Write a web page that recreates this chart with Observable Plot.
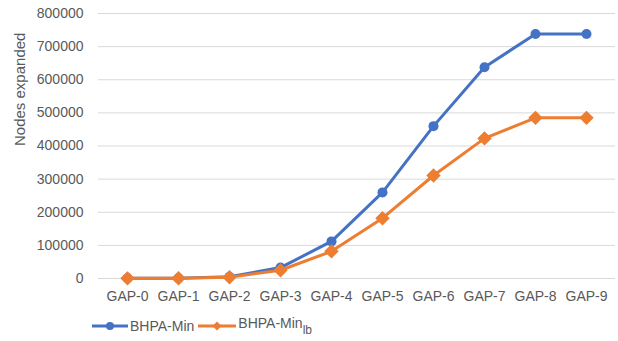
<!DOCTYPE html>
<html>
<head>
<meta charset="utf-8">
<script src="https://cdn.jsdelivr.net/npm/d3@7"></script>
<script src="https://cdn.jsdelivr.net/npm/@observablehq/plot@0.6"></script>
<style>
  body { margin: 0; background: #fff; font-family: "Liberation Sans", Arial, sans-serif; }
  #chart { width: 618px; }
  .legend { display: flex; align-items: center; height: 31px; padding-left: 92px; font-size: 14px; color: #595959; font-family: "Liberation Sans", Arial, sans-serif; }
  .legend .item { display: flex; align-items: center; margin-right: 4px; }
  .legend svg { margin-right: 2px; }
  .legend sub { font-size: 12px; vertical-align: -6px; }
</style>
</head>
<body>
<div id="chart"></div>
<script>
const categories = ["GAP-0", "GAP-1", "GAP-2", "GAP-3", "GAP-4", "GAP-5", "GAP-6", "GAP-7", "GAP-8", "GAP-9"];
const bhpaMin   = [500, 800, 5000, 33000, 112000, 260000, 460000, 638000, 738000, 738000];
const bhpaMinLb = [400, 600, 4000, 25000, 82000, 182000, 311000, 423000, 485000, 485000];
const yTicks = [0, 100000, 200000, 300000, 400000, 500000, 600000, 700000, 800000];
const seriesNames = ["BHPA-Min", "BHPA-Min_lb"];
const colors = ["#4472C4", "#ED7D31"];

const data = [];
categories.forEach((c, i) => {
  data.push({cat: c, value: bhpaMin[i], series: seriesNames[0]});
  data.push({cat: c, value: bhpaMinLb[i], series: seriesNames[1]});
});

const chart = Plot.plot({
  width: 618,
  height: 310,
  marginLeft: 98,
  marginRight: 3,
  marginTop: 13,
  marginBottom: 32,
  style: { fontFamily: "Liberation Sans, Arial, sans-serif", fontSize: "14px", color: "#595959" },
  x: { type: "point", domain: categories, padding: 0.5, label: null },
  y: { domain: [0, 800000], ticks: yTicks, label: null },
  color: { domain: seriesNames, range: colors },
  marks: [
    Plot.ruleY(yTicks, { stroke: "#d9d9d9", strokeWidth: 1 }),
    Plot.axisY({ ticks: yTicks, tickSize: 0, tickPadding: 15, tickFormat: d3.format("d"), label: null, fill: "#595959", fontSize: 14 }),
    Plot.axisX({ tickSize: 0, tickPadding: 13, label: null, fill: "#595959", fontSize: 14 }),
    Plot.text(["Nodes expanded"], { frameAnchor: "left", dx: -78, rotate: -90, fontSize: 15, fill: "#595959" }),
    Plot.line(data.filter(d => d.series === seriesNames[0]), { x: "cat", y: "value", stroke: colors[0], strokeWidth: 3 }),
    Plot.dot(data.filter(d => d.series === seriesNames[0]), { x: "cat", y: "value", fill: colors[0], r: 5, symbol: "circle" }),
    Plot.line(data.filter(d => d.series === seriesNames[1]), { x: "cat", y: "value", stroke: colors[1], strokeWidth: 3 }),
    Plot.dot(data.filter(d => d.series === seriesNames[1]), { x: "cat", y: "value", fill: colors[1], r: 6.5, symbol: "diamond2" })
  ]
});
document.getElementById("chart").appendChild(chart);

const legend = document.createElement("div");
legend.className = "legend";
legend.innerHTML = `
  <div class="item"><svg width="36" height="12"><line x1="0" x2="36" y1="6" y2="6" stroke="${colors[0]}" stroke-width="3"/><circle cx="18" cy="6" r="4" fill="${colors[0]}"/></svg><span>BHPA-Min</span></div>
  <div class="item"><svg width="38" height="14"><line x1="0" x2="38" y1="7" y2="7" stroke="${colors[1]}" stroke-width="3"/><path d="M19,2.5 L23.5,7 L19,11.5 L14.5,7 Z" fill="${colors[1]}"/></svg><span>BHPA-Min<sub>lb</sub></span></div>
`;
document.getElementById("chart").appendChild(legend);
</script>
</body>
</html>
